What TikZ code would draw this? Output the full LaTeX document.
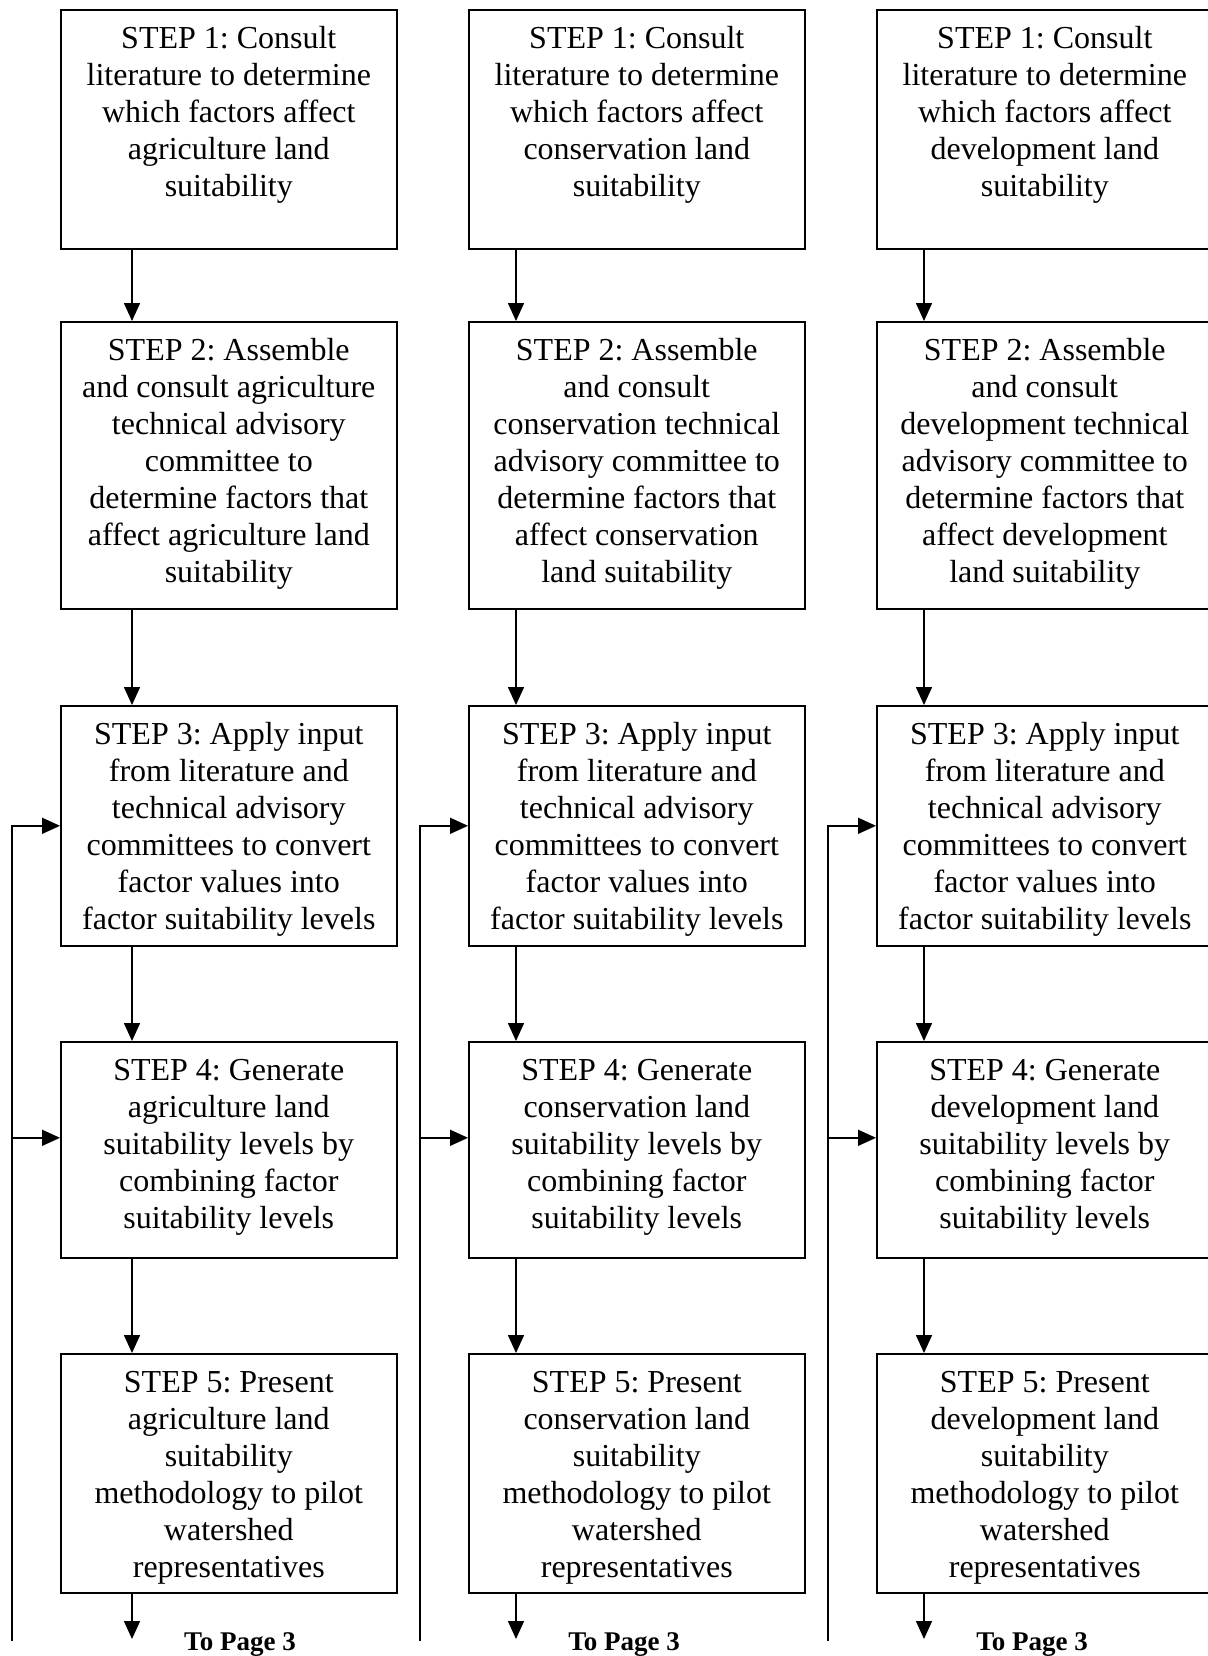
\documentclass[tikz,border=0pt]{standalone}
\usepackage{fontspec}
\setmainfont{Liberation Serif}
\usetikzlibrary{arrows.meta}
\tikzset{
  stepbox/.style={draw, rectangle, line width=0.8pt, minimum width=168pt, inner sep=0pt},
  steptext/.style={inner sep=0pt, align=center, font=\fontsize{16}{18.5}\selectfont\frenchspacing},
  arr/.style={line width=0.8pt, -{Triangle[length=9pt,width=8pt]}},
  pagelabel/.style={inner sep=0pt, font=\fontsize{13.5}{15}\selectfont\bfseries}
}
\newcommand\stepnode[5]{%
  \node[stepbox, minimum height={(#4-#3)*0.5pt}, anchor=north west] (#1) at (#2,#3) {};
  \node[steptext, anchor=north] (#1t) at ([yshift=-6.55pt]#1.north) {\strut #5};
}
\begin{document}
\begin{tikzpicture}[x=0.5pt,y=-0.5pt]
\useasboundingbox (0,0) rectangle (1207,1656);

% ---------- Column A: agriculture ----------
\stepnode{a1}{60}{9}{248}{STEP 1: Consult\\literature to determine\\which factors affect\\agriculture land\\suitability}
\stepnode{a2}{60}{321}{608}{STEP 2: Assemble\\and consult agriculture\\technical advisory\\committee to\\determine factors that\\affect agriculture land\\suitability}
\stepnode{a3}{60}{705}{945}{STEP 3: Apply input\\from literature and\\technical advisory\\committees to convert\\factor values into\\factor suitability levels}
\stepnode{a4}{60}{1041}{1257}{STEP 4: Generate\\agriculture land\\suitability levels by\\combining factor\\suitability levels}
\stepnode{a5}{60}{1353}{1592}{STEP 5: Present\\agriculture land\\suitability\\methodology to pilot\\watershed\\representatives}

% ---------- Column B: conservation ----------
\stepnode{b1}{468}{9}{248}{STEP 1: Consult\\literature to determine\\which factors affect\\conservation land\\suitability}
\stepnode{b2}{468}{321}{608}{STEP 2: Assemble\\and consult\\conservation technical\\advisory committee to\\determine factors that\\affect conservation\\land suitability}
\stepnode{b3}{468}{705}{945}{STEP 3: Apply input\\from literature and\\technical advisory\\committees to convert\\factor values into\\factor suitability levels}
\stepnode{b4}{468}{1041}{1257}{STEP 4: Generate\\conservation land\\suitability levels by\\combining factor\\suitability levels}
\stepnode{b5}{468}{1353}{1592}{STEP 5: Present\\conservation land\\suitability\\methodology to pilot\\watershed\\representatives}

% ---------- Column C: development ----------
\stepnode{c1}{876}{9}{248}{STEP 1: Consult\\literature to determine\\which factors affect\\development land\\suitability}
\stepnode{c2}{876}{321}{608}{STEP 2: Assemble\\and consult\\development technical\\advisory committee to\\determine factors that\\affect development\\land suitability}
\stepnode{c3}{876}{705}{945}{STEP 3: Apply input\\from literature and\\technical advisory\\committees to convert\\factor values into\\factor suitability levels}
\stepnode{c4}{876}{1041}{1257}{STEP 4: Generate\\development land\\suitability levels by\\combining factor\\suitability levels}
\stepnode{c5}{876}{1353}{1592}{STEP 5: Present\\development land\\suitability\\methodology to pilot\\watershed\\representatives}

% ---------- vertical flow arrows ----------
\foreach \c/\off in {a/36pt, b/24pt, c/24pt}{
  \draw[arr] ([xshift=\off]\c1.south west) -- ([xshift=\off]\c2.north west);
  \draw[arr] ([xshift=\off]\c2.south west) -- ([xshift=\off]\c3.north west);
  \draw[arr] ([xshift=\off]\c3.south west) -- ([xshift=\off]\c4.north west);
  \draw[arr] ([xshift=\off]\c4.south west) -- ([xshift=\off]\c5.north west);
}

% ---------- bottom arrows and labels ----------
\coordinate (aend) at (132,1639);
\coordinate (bend) at (516,1639);
\coordinate (cend) at (924,1639);
\draw[arr] (a5.south -| aend) -- (aend);
\draw[arr] (b5.south -| bend) -- (bend);
\draw[arr] (c5.south -| cend) -- (cend);
\node[pagelabel, anchor=base] (pa) at (240,1650) {To Page 3};
\node[pagelabel, anchor=base] (pb) at (624,1650) {To Page 3};
\node[pagelabel, anchor=base] (pc) at (1032,1650) {To Page 3};

% ---------- feedback lines ----------
\coordinate (fa) at (12,1641);
\coordinate (fb) at (420,1641);
\coordinate (fc) at (828,1641);
\foreach \c/\f in {a/fa, b/fb, c/fc}{
  \draw[arr] (\f) |- (\c3.west);
  \coordinate (\c4in) at ([yshift=6pt]\c4.west);
  \draw[arr] (\c4in -| \f) -- (\c4in);
}
\end{tikzpicture}
\end{document}
